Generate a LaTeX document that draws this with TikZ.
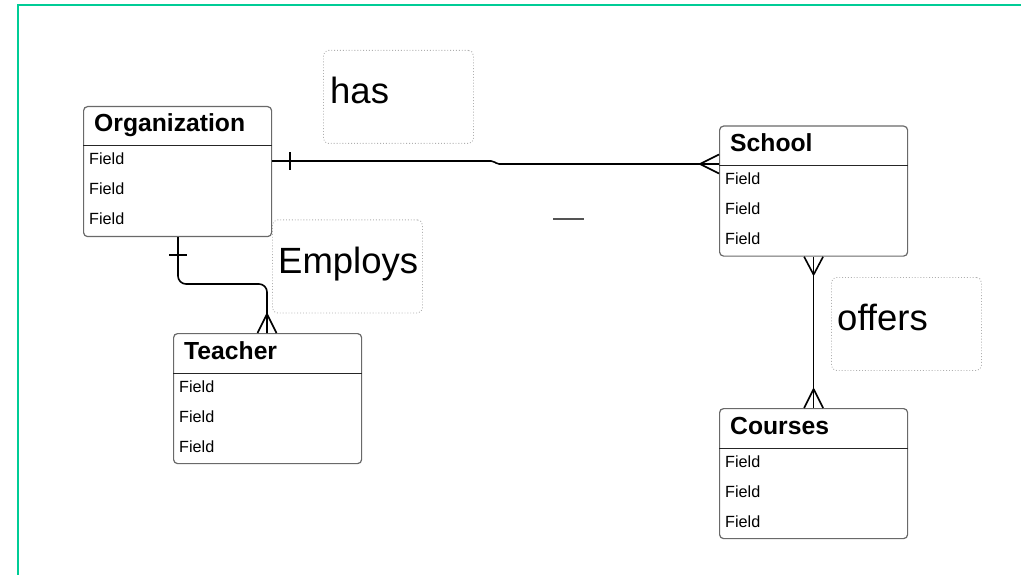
\documentclass[tikz,border=0pt]{standalone}
\usepackage{fontspec}
\setmainfont{Liberation Sans}
\usepackage{tikz}
\usetikzlibrary{arrows.meta,positioning,calc,decorations.markings}
\definecolor{frameGreen}{RGB}{0,204,150}
\definecolor{boxGray}{RGB}{105,105,105}
\definecolor{dotGray}{RGB}{175,175,175}

\tikzset{
  entity/.style={draw=boxGray, line width=1.2pt, rounded corners=4pt, minimum width=188pt,
    minimum height=130pt, anchor=north west, inner sep=0pt},
  enttitle/.style={anchor=base west, inner sep=0pt, font=\fontsize{24.7}{28}\selectfont\bfseries},
  field/.style={anchor=base west, inner sep=0pt, font=\fontsize{16.2}{19}\selectfont},
  divider/.style={black!85, line width=1pt},
  relbox/.style={draw=dotGray, dotted, line width=0.9pt, rounded corners=5pt, minimum width=150pt,
    minimum height=93pt, anchor=north west, inner sep=0pt},
  reltext/.style={anchor=base west, inner sep=0pt, font=\fontsize{36.5}{42}\selectfont},
  conn/.style={line width=1.6pt, black},
  onestart/.style={postaction={decorate, decoration={markings,
    mark=at position 18pt with {\draw[conn] (0,-9pt) -- (0,9pt);}}}},
  manystart/.style={postaction={decorate, decoration={markings,
    mark=at position 0.5pt with {\draw[conn] (17.5pt,0) -- (-0.5pt,9.5pt) (17.5pt,0) -- (-0.5pt,-9.5pt);}}}},
  manyend/.style={postaction={decorate, decoration={markings,
    mark=at position -0.5pt with {\draw[conn] (-18.5pt,0) -- (0.5pt,9.5pt) (-18.5pt,0) -- (0.5pt,-9.5pt);}}}},
}

\begin{document}
\begin{tikzpicture}[x=1pt, y=-1pt]
        \useasboundingbox (0,0) rectangle (1021,575);
        % Frame
        \draw[frameGreen, line width=2pt] (18,575) -- (18,5.3) -- (1021,5.3);
        % Entities
        \foreach \ent/\ttl/\px/\py in {org/Organization/83/106, school/School/719/125.5,
                                      teacher/Teacher/173/333, courses/Courses/719/408} {
          \node[entity] (\ent) at (\px,\py) {};
          \node[enttitle] (\ent-title) at ($(\ent.north west)+(11,26)$) {\ttl};
          \draw[divider] ($(\ent.north west)+(0,40)$) -- ($(\ent.north east)+(0,40)$);
          \foreach \k in {1,2,3}
            \node[field] (\ent-f\k) at ($(\ent.north west)+(6,29+30*\k)$) {Field};
        }
        % Relationship labels
        \node[relbox] (has) at (323,50) {};
        \node[reltext] (has-text) at ($(has.north west)+(7,54)$) {has};
        \node[relbox] (employs) at (272,219.5) {};
        \node[reltext] (employs-text) at ($(employs.north west)+(6,54)$) {Employs};
        \node[relbox] (offers) at (831,277) {};
        \node[reltext] (offers-text) at ($(offers.north west)+(6,53)$) {offers};
        % Connection points
        \coordinate (orgR) at ($(org.north east)+(0,55)$);
        \coordinate (schoolL) at ($(school.north west)+(0,38.5)$);
        \coordinate (orgB) at ($(org.south west)+(95,0)$);
        \coordinate (teacherT) at ($(teacher.north west)+(94,0)$);
        % Organization has School
        \draw[conn, onestart, manyend, rounded corners=2pt] (orgR) -- ++(221,0) -- ++(4,3) -- (schoolL);
        % Organization employs Teacher
        \draw[conn, onestart, manyend, rounded corners=8pt] (orgB) |- ($(teacherT)+(0,-49)$) -- (teacherT);
        % School offers Courses
        \draw[conn, manystart, manyend] (school.south) -- (courses.north);
        % stray mark
        \draw[boxGray!80!black, line width=1.2pt] (553,219) -- (584,219);
      \end{tikzpicture}
\end{document}
